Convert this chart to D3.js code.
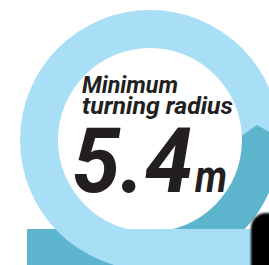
<!DOCTYPE html>
<html>
<head>
<meta charset="utf-8">
<script src="https://cdn.jsdelivr.net/npm/d3@7"></script>
<style>
  html, body { margin: 0; padding: 0; background: #fff; }
  svg { display: block; }
</style>
</head>
<body>
<script>
// ---- data ----
const labelLines = ["Minimum", "turning radius"];
const values = [5.4];
const units = ["m"];

const W = 269, H = 265;
const LIGHT = "#a8def6", TEAL = "#5cb5cc", INK = "#231f20";

const svg = d3.select("body").append("svg").attr("width", W).attr("height", H);
const defs = svg.append("defs");
defs.append("clipPath").attr("id", "outerClip")
  .append("circle").attr("cx", 150).attr("cy", 140).attr("r", 130);
const blur = defs.append("filter").attr("id", "blur")
  .attr("x", "-20%").attr("y", "-20%").attr("width", "140%").attr("height", "140%");
blur.append("feGaussianBlur").attr("stdDeviation", 1.3);

// teal road at bottom-left (under ring)
svg.append("rect").attr("x", 27).attr("y", 229).attr("width", 105).attr("height", 40).attr("fill", TEAL);

// ring outer disk
svg.append("circle").attr("cx", 150).attr("cy", 140).attr("r", 130).attr("fill", LIGHT);

// teal mountain inside the ring
const line = d3.line();
svg.append("path")
  .attr("d", line([[320, 160], [257, 125], [190, 172], [150, 229], [150, 270], [320, 270]]) + "Z")
  .attr("fill", TEAL).attr("clip-path", "url(#outerClip)");

// white inner disk
svg.append("circle").attr("cx", 150).attr("cy", 140).attr("r", 92).attr("fill", "#fff");

// light blue bar
svg.append("rect").attr("x", 120).attr("y", 229).attr("width", 135).attr("height", 40).attr("fill", LIGHT);

// tire
svg.append("rect").attr("x", 251).attr("y", 213).attr("width", 60).attr("height", 80).attr("rx", 15)
  .attr("fill", "#000").attr("filter", "url(#blur)");

// labels
const font = "Roboto, 'Open Sans', sans-serif";
const lines = [
  {t: labelLines[0], x: 82, y: 93, len: 96},
  {t: labelLines[1], x: 82, y: 114, len: 151}
];
svg.selectAll("text.lbl").data(lines).join("text").attr("class", "lbl")
  .attr("x", d => d.x).attr("y", d => d.y)
  .attr("textLength", d => d.len).attr("lengthAdjust", "spacingAndGlyphs")
  .attr("font-family", font).attr("font-weight", 700).attr("font-style", "italic")
  .attr("font-size", 24).attr("fill", INK).text(d => d.t);

svg.append("text").attr("x", 72).attr("y", 192)
  .attr("textLength", 121).attr("lengthAdjust", "spacingAndGlyphs")
  .attr("font-family", font).attr("font-weight", 700).attr("font-style", "italic")
  .attr("font-size", 90).attr("fill", INK).text(d3.format(".1f")(values[0]));

svg.append("text").attr("x", 195).attr("y", 192)
  .attr("textLength", 32).attr("lengthAdjust", "spacingAndGlyphs")
  .attr("font-family", font).attr("font-weight", 700).attr("font-style", "italic")
  .attr("font-size", 46).attr("fill", INK).text(units[0]);
</script>
</body>
</html>
